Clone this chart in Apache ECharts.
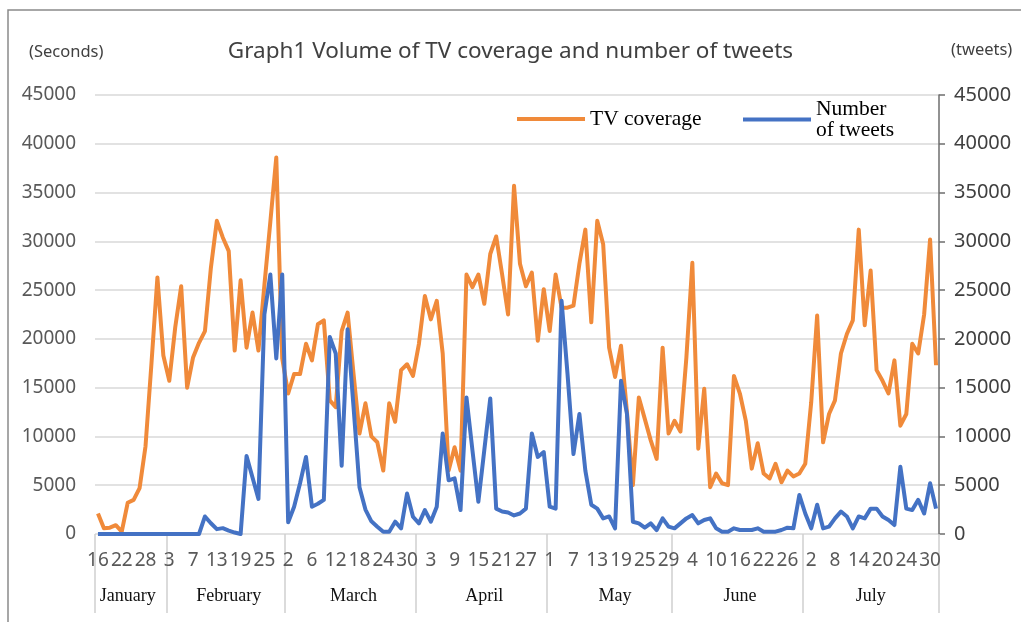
<!DOCTYPE html>
<html>
<head>
<meta charset="utf-8">
<script src="https://cdn.jsdelivr.net/npm/echarts@6/dist/echarts.min.js"></script>
<style>
html,body{margin:0;padding:0;background:#fff;}
#chart{width:1021px;height:622px;}
</style>
</head>
<body>
<div id="chart"></div>
<script>
// ---- data ----
const tvCoverage = [
  2100, 600, 650, 900, 250, 3200, 3500, 4700, 9000, 17500,
  26300, 18300, 15700, 21200, 25400, 15000, 18100, 19600, 20800, 27300,
  32100, 30400, 29000, 18800, 26000, 19100, 22700, 18800, 25500, 32000,
  38600, 18000, 14400, 16400, 16400, 19500, 17800, 21500, 21900, 13700,
  13000, 20800, 22700, 16400, 10300, 13400, 10000, 9400, 6500, 13400,
  11500, 16800, 17400, 16200, 19500, 24400, 22000, 23900, 18500, 6500,
  8900, 6500, 26600, 25300, 26600, 23600, 28700, 30500, 26600, 22500,
  35700, 27700, 25400, 26800, 19800, 25100, 20800, 26600, 23200, 23200,
  23400, 27700, 31200, 21700, 32100, 29700, 19100, 16100, 19300, 12500,
  5000, 14000, 11800, 9600, 7700, 19100, 10300, 11600, 10500, 18100,
  27800, 8750, 14900, 4800, 6200, 5200, 5000, 16200, 14400, 11600,
  6700, 9300, 6200, 5700, 7200, 5300, 6500, 5900, 6200, 7200,
  13500, 22400, 9400, 12300, 13700, 18500, 20500, 21900, 31200, 21400,
  27000, 16800, 15700, 14400, 17800, 11100, 12300, 19500, 18500, 22500,
  30200, 17300
];
const tweets = [
  0, 0, 0, 0, 0, 0, 0, 0, 0, 0,
  0, 0, 0, 0, 0, 0, 0, 0, 1800, 1100,
  500, 600, 350, 150, 0, 8000, 5800, 3600, 22500, 26600,
  18000, 26600, 1200, 2800, 5200, 7900, 2800, 3100, 3500, 20200,
  18500, 7000, 21000, 13000, 4800, 2500, 1300, 750, 240, 240,
  1260, 580, 4150, 1770, 1090, 2450, 1260, 2800, 10300, 5500,
  5700, 2450, 14000, 8600, 3300, 8600, 13900, 2600, 2300, 2200,
  1900, 2100, 2600, 10300, 7900, 8400, 2800, 2600, 23900, 16400,
  8200, 12300, 6500, 3000, 2600, 1600, 1800, 580, 15700, 12300,
  1260, 1090, 650, 1090, 400, 1600, 750, 580, 1090, 1600,
  1940, 1090, 1430, 1600, 580, 240, 240, 580, 410, 410,
  410, 580, 240, 240, 240, 410, 650, 580, 4000, 2100,
  580, 3000, 580, 750, 1600, 2300, 1800, 580, 1800, 1600,
  2600, 2600, 1800, 1430, 920, 6900, 2600, 2450, 3500, 2100,
  5200, 2600
];
// day tick labels, one every 4th data point
const dayLabels = ['16','22','28','3','7','13','19','25','2','6','12','18','24','30',
  '3','9','15','21','27','1','7','13','19','25','29','4','10','16','22','26',
  '2','8','14','20','24','30'];
const labelStep = 4;
const months = ['January','February','March','April','May','June','July'];
const monthStarts = [0, 12, 32, 54, 76, 97, 119];      // first data index of each month
const monthLabelAt = [5, 22, 43, 65, 87, 108, 130];   // data index under each month name
const seriesNames = ['TV coverage', 'Number\nof tweets'];
const titleText = 'Graph1 Volume of TV coverage and number of tweets';

const categories = tvCoverage.map((_, i) => i);

const chart = echarts.init(document.getElementById('chart'), null, {renderer: 'canvas'});
const sans = 'Noto Sans';
const serif = 'Liberation Serif';

chart.setOption({
  animation: false,
  backgroundColor: '#ffffff',
  title: {
    text: titleText,
    left: 'center',
    top: 35,
    textStyle: {fontFamily: sans, fontSize: 22.5, fontWeight: 'normal', color: '#404040'}
  },
  graphic: [
    {type: 'rect', shape: {x: 8, y: 10, width: 1100, height: 700},
     style: {fill: 'none', stroke: '#8a8a8a', lineWidth: 1.5}, silent: true},
    {type: 'text', x: 29, y: 44, style: {text: '(Seconds)', fontFamily: sans, fontSize: 16.5, fill: '#404040'}},
    {type: 'text', x: 951, y: 42, style: {text: '(tweets)', fontFamily: sans, fontSize: 16.5, fill: '#404040'}}
  ],
  legend: [
    {data: [seriesNames[0]], left: 512, top: 102, icon: 'rect', itemWidth: 68, itemHeight: 4,
     itemGap: 0, textStyle: {fontFamily: serif, fontSize: 21.5, color: '#000', lineHeight: 24}},
    {data: [seriesNames[1]], left: 738, top: 93, icon: 'rect', itemWidth: 68, itemHeight: 4,
     itemGap: 0, textStyle: {fontFamily: serif, fontSize: 21.5, color: '#000', lineHeight: 21}}
  ],
  grid: {left: 95, right: 82, top: 95, bottom: 88, containLabel: false},
  xAxis: [
    {
      type: 'category', data: categories, boundaryGap: true, position: 'bottom',
      axisLine: {show: false, onZero: false}, axisTick: {show: false}, splitLine: {show: false},
      axisLabel: {
        interval: (i) => i % labelStep === 0,
        formatter: (v, i) => dayLabels[i / labelStep] || '',
        margin: 17, fontFamily: sans, fontSize: 19, color: '#595959'
      }
    },
    {
      type: 'category', data: categories, boundaryGap: true, position: 'bottom',
      axisLine: {show: false, onZero: false}, splitLine: {show: false},
      axisTick: {show: true, length: 79, interval: (i) => monthStarts.indexOf(i) >= 0,
                 lineStyle: {color: '#d0d0d0', width: 1.5}},
      axisLabel: {
        interval: (i) => monthLabelAt.indexOf(i) >= 0,
        formatter: (v, i) => { const k = monthLabelAt.indexOf(i); return k >= 0 ? months[k] : ''; },
        margin: 53, fontFamily: serif, fontSize: 18, color: '#111'
      }
    }
  ],
  yAxis: [
    {
      type: 'value', min: 0, max: 45000, interval: 5000, position: 'left',
      axisLine: {show: false}, axisTick: {show: false},
      splitLine: {show: true, lineStyle: {color: '#d9d9d9', width: 1.5}},
      axisLabel: {margin: 19, fontFamily: sans, fontSize: 19, color: '#595959',
                  formatter: (v) => String(v)}
    },
    {
      type: 'value', min: 0, max: 45000, interval: 5000, position: 'right',
      axisLine: {show: true, lineStyle: {color: '#6e6e6e', width: 1.5}},
      axisTick: {show: true, length: 6, lineStyle: {color: '#6e6e6e', width: 1.5}},
      splitLine: {show: false},
      axisLabel: {margin: 15, fontFamily: sans, fontSize: 20, color: '#404040',
                  formatter: (v) => String(v)}
    }
  ],
  series: [
    {name: seriesNames[0], type: 'line', data: tvCoverage, xAxisIndex: 0, yAxisIndex: 0,
     symbol: 'none', smooth: false, color: '#F08A3A',
     lineStyle: {width: 4, color: '#F08A3A', join: 'round'}},
    {name: seriesNames[1], type: 'line', data: tweets, xAxisIndex: 0, yAxisIndex: 1,
     symbol: 'none', smooth: false, color: '#4472C4',
     lineStyle: {width: 4, color: '#4472C4', join: 'round'}}
  ]
});
</script>
</body>
</html>
